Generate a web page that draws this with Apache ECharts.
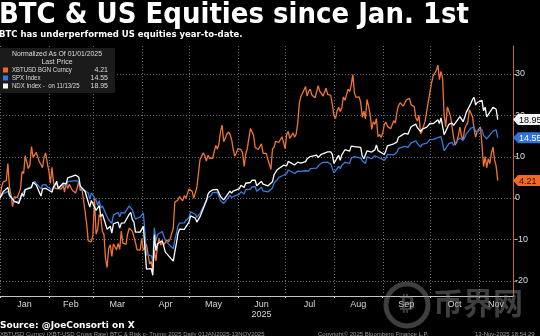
<!DOCTYPE html>
<html>
<head>
<meta charset="utf-8">
<script src="https://cdn.jsdelivr.net/npm/echarts@6/dist/echarts.min.js"></script>
<style>
  html, body { margin: 0; padding: 0; background: #000; }
  #chart { width: 540px; height: 336px; }
</style>
</head>
<body>
<div id="chart"></div>
<script>
// ---- calendar -------------------------------------------------------------
const monthNames   = ['Jan','Feb','Mar','Apr','May','Jun','Jul','Aug','Sep','Oct','Nov'];
const monthLengths = [31, 28, 31, 30, 31, 30, 31, 31, 30, 31, 30];
const marketHolidays = ['01-01','01-09','01-20','02-17','04-18','05-26','06-19','07-04','09-01'];
const yTicks = [-20, -10, 0, 10, 20, 30];

// ---- XBTUSD, % change since 01/01/2025, one value per calendar day ---------
const btcJan = [0.0,2.6,3.9,4.0,4.2,8.3,2.7,0.7,-2.1,0.3,0.2,0.1,0.1,2.2,6.4,5.9,10.2,10.3,7.1,8.0,12.4,9.8,10.1,11.0,10.9,8.7,8.1,7.3,9.9,10.9,8.5];
const btcFeb = [6.6,3.5,7.4,3.7,2.3,2.3,2.2,2.2,2.2,3.2,1.4,3.7,2.3,3.3,3.3,1.8,1.4,1.2,2.4,4.1,1.8,2.3,2.0,-3.2,-6.1,-10.3,-10.6,-10.6];
const btcMar = [-8.9,-0.2,-8.7,-7.6,-4.0,-4.7,-8.1,-8.8,-14.6,-16.8,-12.2,-11.3,-14.1,-11.1,-10.7,-12.5,-11.0,-12.4,-8.0,-10.9,-11.0,-11.2,-8.8,-7.3,-7.4,-8.0,-7.6,-10.7,-12.5,-12.8,-12.6];
const btcApr = [-9.8,-12.6,-12.0,-11.2,-11.6,-16.0,-15.3,-17.5,-12.6,-15.2,-11.7,-9.7,-11.4,-10.5,-11.4,-11.0,-10.1,-10.6,-9.9,-9.8,-7.3,-1.0,-0.8,-0.5,0.3,0.2,-0.7,0.6,-0.1,-0.2];
const btcMay = [2.2,2.6,1.6,-0.1,0.3,2.6,2.8,9.3,9.1,10.9,10.3,8.9,10.3,9.6,9.9,9.6,9.2,12.7,11.8,13.1,16.1,17.6,13.6,14.4,15.4,15.9,15.4,14.2,11.9,10.1,10.8];
const btcJun = [11.9,12.1,11.7,10.9,7.6,10.6,11.9,12.0,16.8,16.8,15.1,12.2,12.4,11.7,11.8,13.1,10.8,11.1,10.8,9.4,8.2,6.9,11.8,12.3,13.7,13.3,13.4,13.7,14.8,13.5];
const btcJul = [11.9,15.3,16.1,14.4,14.6,15.7,14.7,15.4,17.9,22.8,24.5,24.4,26.1,26.9,24.6,25.8,26.3,24.9,24.9,24.2,24.4,27.1,25.8,25.3,24.6,24.9,26.5,25.0,24.9,24.8,22.6];
const btcAug = [20.0,19.2,21.0,21.9,20.9,21.8,24.4,23.6,23.4,26.3,25.7,27.3,29.8,25.4,24.3,24.4,24.4,23.1,19.5,21.0,19.1,23.8,22.2,20.2,16.6,18.4,17.8,19.2,14.8,15.3,14.6];
const btcSep = [15.7,17.8,18.3,17.3,17.2,16.7,17.7,18.7,18.1,20.7,22.3,23.0,22.8,22.2,22.2,23.7,23.4,24.1,22.5,22.6,22.1,19.4,18.6,20.0,15.5,16.2,16.2,18.7,21.2,20.8];
const btcOct = [25.7,27.8,29.5,29.6,30.8,32.1,28.6,30.6,28.9,19.9,17.2,22.0,22.1,19.8,17.3,14.6,12.8,13.5,15.1,17.1,14.9,14.0,16.6,17.6,18.2,21.3,20.9,19.6,16.6,14.7,16.1];
const btcNov = [16.6,17.2,12.9,7.6,10.0,7.3,9.5,8.3,10.9,12.3,9.2,7.7,4.21];

// ---- SPX Index, % change, one value per trading day ------------------------
const spxJan = [-0.22,1.03,1.59,0.47,0.62,-0.93,-0.77,-0.66,1.16,0.95,1.96,2.85,3.48,4.03,3.73,2.22,3.16,2.68,3.22,2.70];
const spxFeb = [1.92,2.66,3.06,3.43,2.45,3.14,3.18,2.90,3.97,3.96,4.22,4.46,4.01,2.24,1.73,1.25,1.27,-0.34,1.24];
const spxMar = [-0.54,-1.76,-0.66,-2.43,-1.89,-4.54,-5.26,-4.80,-6.12,-4.13,-3.51,-4.54,-3.51,-3.72,-3.64,-1.94,-1.78,-2.88,-3.20,-5.11,-4.59];
const spxApr = [-4.23,-3.58,-8.25,-13.73,-13.93,-15.28,-7.22,-10.43,-8.81,-8.09,-8.25,-10.30,-10.18,-12.30,-10.10,-8.60,-6.75,-6.06,-6.00,-5.45,-5.31];
const spxMay = [-4.72,-3.31,-3.93,-4.67,-4.26,-3.70,-3.77,-0.64,0.08,0.19,0.60,1.30,1.39,1.00,-0.63,-0.67,-1.34,0.68,0.12,0.52,0.51];
const spxJun = [0.92,1.51,1.52,0.98,2.02,2.11,2.67,2.39,2.78,1.62,2.58,1.72,1.69,1.47,2.44,3.58,3.58,4.41,4.96,5.50];
const spxJul = [5.38,5.88,6.76,5.92,5.85,6.49,6.78,6.43,6.58,6.16,6.50,7.07,7.06,7.21,7.28,8.11,8.19,8.62,8.64,8.32,8.18,7.78];
const spxAug = [6.06,7.62,7.10,7.88,7.79,8.63,8.36,9.59,9.95,9.98,9.66,9.65,9.01,8.74,8.31,9.95,9.48,9.93,10.20,10.55,9.84];
const spxSep = [9.08,9.63,10.55,10.20,10.43,10.73,11.06,12.00,11.95,12.47,12.33,12.22,12.76,13.31,13.81,13.18,12.86,12.29,12.96,13.25,13.72];
const spxOct = [14.10,14.17,14.18,14.60,14.16,14.83,14.51,11.41,13.14,12.97,13.42,12.71,13.30,14.51,14.52,13.90,14.57,15.47,16.89,17.16,17.15,15.99,16.30];
const spxNov = [16.50,15.13,15.55,14.26,14.40,16.16,16.41,16.48,14.55];

// ---- NDX Index, % change, one value per trading day ------------------------
const ndxJan = [-0.17,1.49,2.56,0.75,0.79,-0.78,-1.28,-1.21,1.07,0.37,2.05,2.52,3.83,3.58,3.16,0.46,2.19,1.90,2.34,2.22];
const ndxFeb = [1.38,2.69,3.29,4.02,2.28,3.56,3.53,3.41,4.85,5.25,5.54,5.55,5.02,2.86,1.62,0.29,0.57,-2.20,-0.61];
const ndxMar = [-2.98,-3.13,-1.83,-4.49,-3.86,-7.53,-7.94,-6.82,-8.50,-6.22,-5.83,-7.28,-6.07,-6.35,-5.99,-3.96,-3.45,-5.21,-5.77,-8.24,-8.25];
const ndxApr = [-7.51,-6.81,-11.86,-17.20,-17.04,-18.67,-8.89,-12.70,-11.05,-10.31,-10.40,-13.08,-13.11,-15.24,-13.02,-10.93,-8.57,-7.52,-7.57,-6.99,-6.86];
const ndxMay = [-5.82,-4.33,-4.86,-5.81,-5.45,-4.51,-4.53,-0.69,0.87,1.46,1.54,1.97,2.07,1.69,0.35,0.48,-0.46,1.67,1.18,1.67,1.56];
const ndxJun = [2.28,3.06,3.36,2.55,3.56,3.74,4.32,4.07,4.29,2.95,4.03,3.36,3.36,2.92,3.94,5.61,5.83,6.83,7.24,7.93];
const ndxJul = [7.46,7.76,8.83,7.96,8.04,8.65,8.55,8.41,8.77,9.46,9.65,10.01,9.77,10.35,9.76,10.23,10.56,10.76,11.15,10.93,11.15,10.50];
const ndxAug = [8.33,10.30,9.10,10.43,10.71,11.66,11.33,12.54,12.40,12.41,12.22,12.23,10.14,9.48,9.17,11.36,11.10,11.49,11.62,12.81,11.43];
const ndxSep = [10.51,11.44,12.60,12.57,13.09,13.45,13.50,14.66,14.66,15.61,15.53,15.41,16.38,17.20,17.84,16.98,16.61,16.02,16.61,17.13,17.46];
const ndxOct = [18.00,18.22,17.96,18.88,17.98,19.34,19.45,15.28,17.79,17.38,18.11,17.56,18.11,19.65,19.66,18.43,19.42,20.68,22.89,23.80,24.32,22.46,23.06];
const ndxNov = [23.60,21.05,21.93,19.60,19.26,21.89,21.52,21.44,18.95];

const btcMonths = [btcJan,btcFeb,btcMar,btcApr,btcMay,btcJun,btcJul,btcAug,btcSep,btcOct,btcNov];
const spxMonths = [spxJan,spxFeb,spxMar,spxApr,spxMay,spxJun,spxJul,spxAug,spxSep,spxOct,spxNov];
const ndxMonths = [ndxJan,ndxFeb,ndxMar,ndxApr,ndxMay,ndxJun,ndxJul,ndxAug,ndxSep,ndxOct,ndxNov];

// ---- x positions: day of year, 0 = Jan 1 -----------------------------------
const monthStart = [];
monthLengths.reduce((acc, len) => { monthStart.push(acc); return acc + len; }, 0);
const X_END = 325.7;   // right edge of the time axis (a little past the last point)
const Y_MIN = -23.67, Y_MAX = 36.71;

function pad(n) { return (n < 10 ? '0' : '') + n; }
function tradingDays(m, count) {
  const out = [];
  for (let d = 1; d <= monthLengths[m] && out.length < count; d++) {
    const wd = new Date(Date.UTC(2025, m, d)).getUTCDay();
    if (wd === 0 || wd === 6) continue;
    if (marketHolidays.indexOf(pad(m + 1) + '-' + pad(d)) >= 0) continue;
    out.push(monthStart[m] + d - 1);
  }
  return out;
}
function dailyPoints(months) {
  const pts = [];
  months.forEach((vals, m) => vals.forEach((v, i) => pts.push([monthStart[m] + i, v])));
  return pts;
}
function tradingPoints(months) {
  const pts = [[0, 0]];
  months.forEach((vals, m) => {
    const days = tradingDays(m, vals.length);
    vals.forEach((v, i) => pts.push([days[i], v]));
  });
  return pts;
}

const btcData = dailyPoints(btcMonths);
const spxData = tradingPoints(spxMonths);
const ndxData = tradingPoints(ndxMonths);
const lastOf = d => d[d.length - 1][1];

const monthLabelPos = monthStart.map((s, i) =>
  i === monthStart.length - 1 ? (s + X_END) / 2 : s + monthLengths[i] / 2);

const C_BTC = '#ef7534', C_SPX = '#3b7bdb', C_NDX = '#ffffff';
const AX_FONT = '"Liberation Sans", Arial, sans-serif';
const AXIS_ORANGE = '#c8683a';

const chart = echarts.init(document.getElementById('chart'), null, { renderer: 'canvas' });

chart.setOption({
  backgroundColor: '#000',
  animation: false,
  grid: { left: -4.2, right: 27, top: 46, bottom: 40 },
  xAxis: {
    type: 'value', min: 0, max: X_END,
    axisLine: { show: true, onZero: false, lineStyle: { color: '#c4c4c4', width: 1 } },
    axisTick: { show: true, customValues: monthStart, length: 2, lineStyle: { color: '#c4c4c4' } },
    axisLabel: {
      customValues: monthLabelPos, color: '#d8d8d8', fontSize: 9, fontFamily: AX_FONT,
      margin: 4, lineHeight: 10,
      formatter: v => {
        const i = monthLabelPos.findIndex(p => Math.abs(p - v) < 0.01);
        const name = i >= 0 ? monthNames[i] : '';
        return name === 'Jun' ? 'Jun\n2025' : name;
      }
    },
    splitLine: { show: false }
  },
  yAxis: {
    type: 'value', position: 'right', min: Y_MIN, max: Y_MAX,
    axisLine: { show: true, onZero: false, lineStyle: { color: AXIS_ORANGE, width: 1 } },
    axisTick: { show: true, customValues: yTicks, length: 4, lineStyle: { color: AXIS_ORANGE } },
    axisLabel: { customValues: yTicks, color: '#dcdcdc', fontSize: 9, fontFamily: AX_FONT, margin: 2 },
    splitLine: { show: false }
  },
  series: [
    { name: 'XBTUSD BGN Curncy', type: 'line', data: btcData, showSymbol: false,
      lineStyle: { color: C_BTC, width: 1.3 }, z: 3 },
    { name: 'SPX Index', type: 'line', data: spxData, showSymbol: false,
      lineStyle: { color: C_SPX, width: 1.3 }, z: 4 },
    { name: 'NDX Index', type: 'line', data: ndxData, showSymbol: false,
      lineStyle: { color: C_NDX, width: 1.3 }, z: 5 }
  ]
});

// ---- overlay: grid, titles, legend panel, last-price tags, footer ------------
function txt(x, y, text, font, fill, align, vAlign, extra) {
  return Object.assign({
    type: 'text', x, y, z: 100,
    style: { text, font, fill, align: align || 'left', textAlign: align || 'left',
             verticalAlign: vAlign || 'middle', textVerticalAlign: vAlign || 'middle' }
  }, extra || {});
}

const graphics = [];

// dotted grid at month starts and value ticks
const px = (x, y) => chart.convertToPixel({ xAxisIndex: 0, yAxisIndex: 0 }, [x, y]);
const topY = px(0, Y_MAX)[1], botY = px(0, Y_MIN)[1];
const leftX = px(0, 0)[0], rightX = px(X_END, 0)[0];
const DOTS = { stroke: '#6e6e6e', lineWidth: 1, lineDash: [1, 2] };
monthStart.forEach(d => {
  const x = Math.round(px(d, 0)[0]) + 0.5;
  graphics.push({ type: 'line', z: 1, silent: true, shape: { x1: x, y1: topY, x2: x, y2: botY - 1 }, style: DOTS });
});
yTicks.forEach(v => {
  const y = Math.round(px(0, v)[1]) + 0.5;
  graphics.push({ type: 'line', z: 1, silent: true, shape: { x1: leftX, y1: y, x2: rightX - 1, y2: y }, style: DOTS });
});

// titles
graphics.push(txt(-1, 15.5, 'BTC & US Equities since Jan. 1st', 'bold 28px "DejaVu Sans", sans-serif', '#ffffff',
  'left', 'middle', { scaleX: 0.93 }));
graphics.push(txt(-1, 34.5, 'BTC has underperformed US equities year-to-date.', 'bold 8.5px "DejaVu Sans", sans-serif', '#ffffff'));

// legend panel
const LEG_FONT = '7px "Liberation Sans", Arial, sans-serif';
const legendRows = [
  { color: '#f26a21', name: 'XBTUSD BGN Curncy', value: lastOf(btcData) },
  { color: '#2f7be0', name: 'SPX Index',          value: lastOf(spxData) },
  { color: '#ffffff', name: 'NDX Index -  on 11/13/25', value: lastOf(ndxData) }
];
graphics.push({ type: 'rect', z: 99, shape: { x: 0, y: 48, width: 115, height: 45 }, style: { fill: '#1b1b1b' } });
graphics.push(txt(57, 54, 'Normalized As Of 01/01/2025', LEG_FONT, '#dddddd', 'center', 'middle', { scaleX: 0.98 }));
graphics.push(txt(57, 62, 'Last Price', LEG_FONT, '#dddddd', 'center'));
legendRows.forEach((r, i) => {
  const y = 70 + i * 8;
  graphics.push({ type: 'rect', z: 100, shape: { x: 3, y: y - 2.5, width: 5, height: 5 }, style: { fill: r.color } });
  graphics.push(txt(12, y, r.name, LEG_FONT, '#dddddd', 'left', 'middle', { scaleX: 0.86 }));
  graphics.push(txt(108, y, r.value.toFixed(2), LEG_FONT, '#dddddd', 'right'));
});

// last-price tags on the value axis
const axisX = rightX;
[
  { v: lastOf(ndxData), fill: '#f4f4f4', ink: '#000000' },
  { v: lastOf(spxData), fill: '#2f72d8', ink: '#ffffff' },
  { v: lastOf(btcData), fill: '#f26a21', ink: '#2a0c00' }
].forEach(t => {
  const y = px(X_END, t.v)[1];
  graphics.push({ type: 'polygon', z: 100,
    shape: { points: [[axisX, y], [axisX + 5, y - 5.5], [axisX + 40, y - 5.5], [axisX + 40, y + 5.5], [axisX + 5, y + 5.5]] },
    style: { fill: t.fill } });
  graphics.push(txt(axisX + 6, y + 0.5, t.v.toFixed(2), '9px "Liberation Sans", Arial, sans-serif', t.ink));
});

// watermark
const WM = 'rgba(140,140,140,0.45)';
graphics.push({ type: 'circle', z: 98, shape: { cx: 407, cy: 305, r: 21 },
  style: { fill: 'none', stroke: WM, lineWidth: 5 } });
graphics.push(txt(407, 305, '₿', 'bold 20px "DejaVu Sans", sans-serif', WM, 'center', 'middle', { z: 98 }));
graphics.push(txt(433, 303, '币界网', 'bold 30px "Noto Sans CJK SC", sans-serif', WM, 'left', 'middle', { z: 98 }));

// footer
graphics.push(txt(0, 326, 'Source: @JoeConsorti on X', 'bold 9px "DejaVu Sans", sans-serif', '#ffffff'));
const FOOT_FONT = '6px "Liberation Sans", Arial, sans-serif';
graphics.push(txt(0, 331, 'XBTUSD Curncy (XBT-USD Cross Rate) BTC & Risk c- Trump 2025 Daily 01JAN2025-13NOV2025', FOOT_FONT, '#9a9a9a', 'left', 'top'));
graphics.push(txt(318, 331, 'Copyright\u00A9 2025 Bloomberg Finance L.P.', FOOT_FONT, '#9a9a9a', 'left', 'top'));
graphics.push(txt(475, 331, '13-Nov-2025 18:54:29', FOOT_FONT, '#9a9a9a', 'left', 'top'));

chart.setOption({ graphic: graphics });
</script>
</body>
</html>
